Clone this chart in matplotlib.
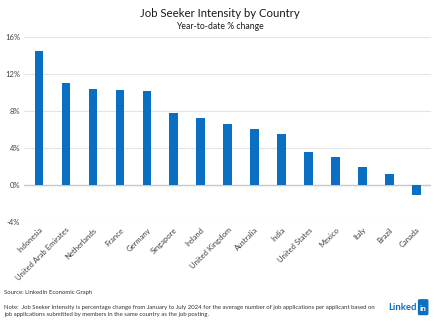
import matplotlib
matplotlib.use("Agg")
import matplotlib.pyplot as plt
from matplotlib.patches import FancyBboxPatch
from matplotlib.ticker import FuncFormatter

countries = ["Indonesia", "United Arab Emirates", "Netherlands", "France", "Germany",
             "Singapore", "Ireland", "United Kingdom", "Australia", "India",
             "United States", "Mexico", "Italy", "Brazil", "Canada"]
changes = [14.5, 11.0, 10.4, 10.3, 10.2, 7.8, 7.2, 6.6, 6.1, 5.5, 3.6, 3.0, 2.0, 1.2, -1.1]
y_ticks = [-4, 0, 4, 8, 12, 16]

plt.rcParams["font.family"] = ["Lato", "DejaVu Sans"]
blue = "#0A6FC2"

fig = plt.figure(figsize=(4.4, 3.22), dpi=100)
ax = fig.add_axes([0.055, 0.31, 0.925, 0.575])

x = range(len(countries))
ax.bar(x, changes, width=0.32, color=blue, zorder=3)

ax.set_ylim(-4, 16)
ax.set_xlim(-0.55, len(countries) - 0.45)
ax.set_yticks(y_ticks)
ax.yaxis.set_major_formatter(FuncFormatter(lambda v, _: f"{v:.0f}%"))
ax.grid(axis="y", color="#e4e4e4", linewidth=0.8, zorder=0)
ax.axhline(0, color="#c8c8c8", linewidth=1.0, zorder=2)
for s in ax.spines.values():
    s.set_visible(False)
ax.tick_params(axis="both", length=0, labelsize=5.5, colors="#404040", pad=3)
ax.set_xticks(list(x))
ax.set_xticklabels(countries, rotation=45, ha="right", rotation_mode="anchor")

fig.text(0.5, 0.958, "Job Seeker Intensity by Country", ha="center", va="center",
         fontsize=8.2, color="#1a1a1a")
fig.text(0.5, 0.918, "Year-to-date % change", ha="center", va="center",
         fontsize=6.2, color="#1a1a1a")

fig.text(0.01, 0.093, "Source: LinkedIn Economic Graph", ha="left", va="center",
         fontsize=4.3, color="#333333")
fig.text(0.01, 0.033,
         "Note:  Job Seeker Intensity is percentage change from January to July 2024 for the average number of job applications per applicant based on\n"
         "job applications submitted by members in the same country as the job posting.",
         ha="left", va="center", fontsize=4.3, color="#333333", linespacing=1.5)

# LinkedIn wordmark: word followed by the rounded "in" box
word = fig.text(0.882, 0.046, "Linked", ha="left", va="center", fontsize=6.8,
                fontweight="bold", color=blue)
fig.canvas.draw()
bb = word.get_window_extent().transformed(fig.transFigure.inverted())
bx = bb.x1 + 0.003
bw, bh = 0.024, 0.05
box = FancyBboxPatch((bx, 0.046 - bh / 2), bw, bh,
                     boxstyle="round,pad=0,rounding_size=0.004",
                     transform=fig.transFigure, facecolor=blue, edgecolor="none")
fig.patches.append(box)
fig.text(bx + bw / 2, 0.043, "in", ha="center", va="center", fontsize=6.0,
         fontweight="bold", color="white")

fig.savefig("out.png", dpi=100, facecolor="white")
